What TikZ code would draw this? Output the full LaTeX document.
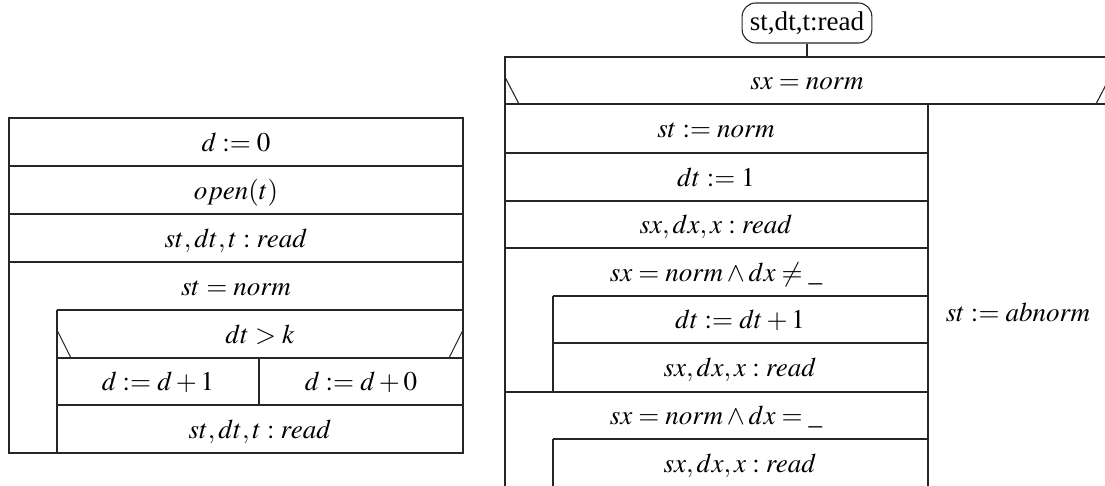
\documentclass[tikz,border=0pt]{standalone}
\usepackage{mathptmx}
\usepackage[no-math]{fontspec}
\setmainfont{Liberation Serif}
\tikzset{
  x=0.37pt, y=-0.37pt,
  ln/.style={line width=0.4pt, draw=black!85},
  txt/.style={anchor=base, inner sep=0pt},
  startbox/.style={draw=black!85, line width=0.4pt, rounded corners=5pt, minimum width=48pt, minimum height=14.8pt, inner sep=2pt}
}
\begin{document}
\begin{tikzpicture}
\clip (0,0) rectangle (1105,485);
% ---------------- left diagram ----------------
\draw[ln] (9,118) rectangle (463,453);
\draw[ln] (9,166) -- (463,166);
\draw[ln] (9,214) -- (463,214);
\draw[ln] (9,262) -- (463,262);
\draw[ln] (57,310) -- (463,310);
\draw[ln] (57,310) -- (57,453);
\draw[ln] (57,358) -- (463,358);
\draw[ln] (57,330) -- (71,358);
\draw[ln] (463,330) -- (449,358);
\draw[ln] (259,358) -- (259,405);
\draw[ln] (57,405) -- (463,405);
\node[txt] (l1) at (236,151) {$d := 0$};
\node[txt] (l2) at (236,199) {$open(t)$};
\node[txt] (l3) at (236,247) {$st,dt,t : read$};
\node[txt] (l4) at (236,295) {$st = norm$};
\node[txt] (l5) at (260,343) {$dt > k$};
\node[txt] (l6) at (158,390) {$d := d+1$};
\node[txt] (l7) at (361,390) {$d := d+0$};
\node[txt] (l8) at (260,438) {$st,dt,t : read$};
% ---------------- right diagram ----------------
\node[startbox] (start) at (807,23) {st,dt,t:read};
\coordinate (rtop) at (807,57);
\draw[ln] (start) -- (rtop);
\draw[ln] (505,57) rectangle (1110,490);
\draw[ln] (505,104) -- (1110,104);
\draw[ln] (505,77) -- (519,104);
\draw[ln] (1110,77) -- (1096,104);
\draw[ln] (928,104) -- (928,490);
\draw[ln] (505,153) -- (928,153);
\draw[ln] (505,201) -- (928,201);
\draw[ln] (505,248) -- (928,248);
\draw[ln] (553,296) -- (928,296);
\draw[ln] (553,296) -- (553,392);
\draw[ln] (553,343) -- (928,343);
\draw[ln] (505,392) -- (928,392);
\draw[ln] (553,439) -- (928,439);
\draw[ln] (553,439) -- (553,490);
\node[txt] (r0) at (807,89) {$sx = norm$};
\node[txt] (r1) at (716,137) {$st := norm$};
\node[txt] (r2) at (716,186) {$dt := 1$};
\node[txt] (r3) at (716,233) {$sx,dx,x : read$};
\node[txt] (r4) at (716,281) {$sx = norm \wedge dx \neq \_$};
\node[txt] (r5) at (740,328) {$dt := dt+1$};
\node[txt] (r6) at (740,376) {$sx,dx,x : read$};
\node[txt] (r7) at (716,424) {$sx = norm \wedge dx = \_$};
\node[txt] (r8) at (740,472) {$sx,dx,x : read$};
\node[txt] (r9) at (1018,321) {$st := abnorm$};
\end{tikzpicture}
\end{document}
